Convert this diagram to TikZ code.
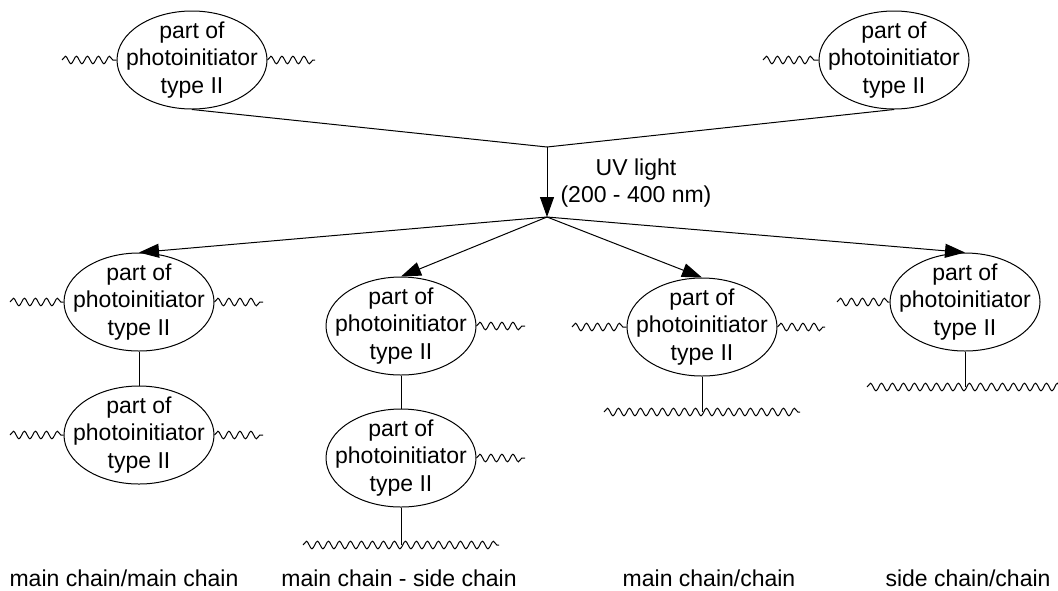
\documentclass[tikz,border=0pt]{standalone}
\usepackage{fontspec}
\setmainfont{Liberation Sans}
\usepackage{tikz}
\usetikzlibrary{shapes.geometric,arrows.meta,decorations.pathmorphing}
\tikzset{part node/.style={ellipse,draw,minimum width=75pt,minimum height=49pt,inner xsep=-8pt,inner ysep=-3pt,align=center,font=\fontsize{11.5pt}{13.6pt}\selectfont},
            wave/.style={decorate,decoration={snake,segment length=5.5pt,amplitude=1.9pt}},
            text node/.style={align=center,font=\fontsize{11.5pt}{13.8pt}\selectfont},
            }

\begin{document}
\begin{tikzpicture}[x=0.5pt,y=-0.5pt,line width=0.5pt,>={Triangle[length=10pt,width=7pt]}]
				\useasboundingbox (0,0) rectangle (1058,590);
				% starting parts
				\node[part node] (T1) at (192,60) {part of\\photoinitiator\\type II};
				\node[part node] (T2) at (894,60) {part of\\photoinitiator\\type II};
				\coordinate (T1l) at (62,60);
				\coordinate (T1r) at (315,60);
				\coordinate (T2l) at (763,60);
				\coordinate (M) at (547,147);
				\coordinate (H) at (547,217);
				\node[text node] (UV) at (636,183) {UV light\\(200 - 400 nm)};
				
				% products
				\node[part node] (A1) at (139,302) {part of\\photoinitiator\\type II};
				\node[part node] (A2) at (139,435) {part of\\photoinitiator\\type II};
				\node[part node] (B1) at (401,326) {part of\\photoinitiator\\type II};
				\node[part node] (B2) at (401,458) {part of\\photoinitiator\\type II};
				\node[part node] (C1) at (702,327) {part of\\photoinitiator\\type II};
				\node[part node] (D1) at (965,302) {part of\\photoinitiator\\type II};
				
				\coordinate (A1l) at (10,302);
				\coordinate (A1r) at (263,302);
				\coordinate (A2l) at (10,435);
				\coordinate (A2r) at (263,435);
				\coordinate (B1r) at (525,326);
				\coordinate (B2r) at (525,458);
				\coordinate (Bl) at (303,545);
				\coordinate (Bm) at (401,545);
				\coordinate (Br) at (499,545);
				\coordinate (C1l) at (572,327);
				\coordinate (C1r) at (825,327);
				\coordinate (Cl) at (604,412);
				\coordinate (Cm) at (702,412);
				\coordinate (Cr) at (800,412);
				\coordinate (D1l) at (837,302);
				\coordinate (Dl) at (867,387);
				\coordinate (Dm) at (965,387);
				\coordinate (Dr) at (1063,387);
				
				\node[text node] (LA) at (124,578) {main chain/main chain};
				\node[text node] (LB) at (399,578) {main chain - side chain};
				\node[text node] (LC) at (709,578) {main chain/chain};
				\node[text node] (LD) at (968,578) {side chain/chain};
				
				% chains
				\draw[wave] (T1l) to (T1.west);
				\draw[wave] (T1.east) to (T1r);
				\draw[wave] (T2l) to (T2.west);
				\draw[wave] (A1l) to (A1.west);
				\draw[wave] (A1.east) to (A1r);
				\draw[wave] (A2l) to (A2.west);
				\draw[wave] (A2.east) to (A2r);
				\draw[wave] (B1.east) to (B1r);
				\draw[wave] (B2.east) to (B2r);
				\draw[wave] (Bl) to (Br);
				\draw[wave] (C1l) to (C1.west);
				\draw[wave] (C1.east) to (C1r);
				\draw[wave] (Cl) to (Cr);
				\draw[wave] (D1l) to (D1.west);
				\draw[wave] (Dl) to (Dr);
				
				% links
				\draw (A1) to (A2);
				\draw (B1) to (B2);
				\draw (B2) to (Bm);
				\draw (C1) to (Cm);
				\draw (D1) to (Dm);
				
				% reaction
				\draw (T1.south) to (M);
				\draw (T2.south) to (M);
				\draw[->] (M) to (H);
				\draw[->] (H) to (A1.north);
				\draw[->] (H) to (B1.north);
				\draw[->] (H) to (C1.north);
				\draw[->] (H) to (D1.north);
			\end{tikzpicture}
\end{document}
